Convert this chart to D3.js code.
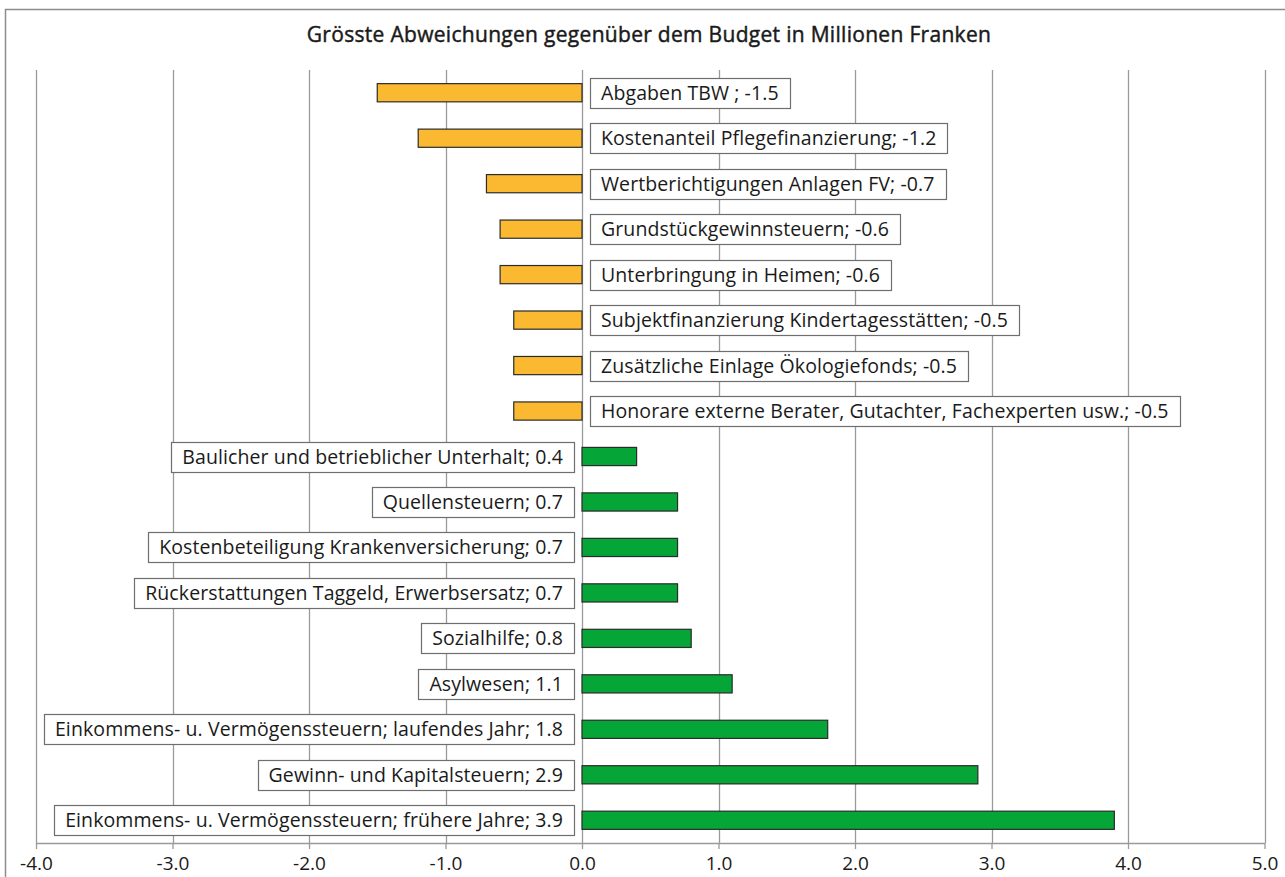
<!DOCTYPE html>
<html>
<head>
<meta charset="utf-8">
<script src="https://cdn.jsdelivr.net/npm/d3@7"></script>
<style>
  body { margin: 0; background: #fff; }
  svg { display: block; font-family: "Open Sans", sans-serif; }
</style>
</head>
<body>
<svg id="chart" width="1285" height="877"></svg>
<script>
// data
var categories = [
  "Abgaben TBW ",
  "Kostenanteil Pflegefinanzierung",
  "Wertberichtigungen Anlagen FV",
  "Grundstückgewinnsteuern",
  "Unterbringung in Heimen",
  "Subjektfinanzierung Kindertagesstätten",
  "Zusätzliche Einlage Ökologiefonds",
  "Honorare externe Berater, Gutachter, Fachexperten usw.",
  "Baulicher und betrieblicher Unterhalt",
  "Quellensteuern",
  "Kostenbeteiligung Krankenversicherung",
  "Rückerstattungen Taggeld, Erwerbsersatz",
  "Sozialhilfe",
  "Asylwesen",
  "Einkommens- u. Vermögenssteuern; laufendes Jahr",
  "Gewinn- und Kapitalsteuern",
  "Einkommens- u. Vermögenssteuern; frühere Jahre"
]
var values = [-1.5, -1.2, -0.7, -0.6, -0.6, -0.5, -0.5, -0.5, 0.4, 0.7, 0.7, 0.7, 0.8, 1.1, 1.8, 2.9, 3.9]
var tickValues = [-4, -3, -2, -1, 0, 1, 2, 3, 4, 5]
var title = "Grösste Abweichungen gegenüber dem Budget in Millionen Franken"

var rows = categories.map((c, i) => ({ name: c, value: values[i] }))
var fmt = v => v.toFixed(1)  // plain hyphen minus, like the original

var svg = d3.select("#chart")

// outer frame
svg.append("rect")
  .attr("x", 5.5).attr("y", 9.5)
  .attr("width", 1300).attr("height", 900)
  .attr("fill", "none")
  .attr("stroke", "#8c8c8c")
  .attr("stroke-width", 1.5)

// title, slightly thickened regular weight
svg.append("text")
  .attr("x", 649).attr("y", 42)
  .attr("text-anchor", "middle")
  .style("font-size", "21px")
  .style("letter-spacing", "0.3px")
  .attr("fill", "#1a1a1a")
  .attr("stroke", "#1a1a1a")
  .attr("stroke-width", 0.45)
  .text(title)

var x = d3.scaleLinear().domain([-4, 5]).range([36, 1264.5])
var y = d3.scaleBand()
  .domain(categories)
  .range([70, 843])
  .paddingInner(0.6)
  .paddingOuter(0.3)

// gridlines
svg.append("g")
  .selectAll("line")
  .data(tickValues)
  .enter().append("line")
  .attr("x1", d => Math.round(x(d)) + 0.5)
  .attr("x2", d => Math.round(x(d)) + 0.5)
  .attr("y1", 70).attr("y2", 843)
  .attr("stroke", "#9a9a9a")
  .attr("stroke-width", 1.3)

// axis
var axis = svg.append("g")
  .attr("transform", "translate(0,843)")
  .call(d3.axisBottom(x).tickValues(tickValues).tickFormat(fmt).tickSize(6).tickSizeOuter(0))
axis.select(".domain").attr("stroke", "#9a9a9a").attr("stroke-width", 1.3)
axis.selectAll(".tick line").attr("stroke", "#9a9a9a").attr("stroke-width", 1.3)
axis.selectAll(".tick text")
  .attr("y", 14)
  .style("font-size", "19px")
  .style("font-family", "'Open Sans', sans-serif")
  .attr("fill", "#1a1a1a")

// bars
svg.append("g")
  .selectAll("rect")
  .data(rows)
  .enter().append("rect")
  .attr("x", d => x(Math.min(0, d.value)))
  .attr("width", d => Math.abs(x(d.value) - x(0)))
  .attr("y", d => y(d.name))
  .attr("height", y.bandwidth())
  .attr("fill", d => d.value < 0 ? "#fbb931" : "#06a537")
  .attr("stroke", "#2b2b2b")
  .attr("stroke-width", 1.2)

// labels with boxes
var labels = svg.append("g")
  .selectAll("g")
  .data(rows)
  .enter().append("g")

labels.each(function (d) {
  var g = d3.select(this)
  var cy = y(d.name) + y.bandwidth() / 2
  var rect = g.append("rect")
  var txt = g.append("text")
    .attr("y", cy)
    .attr("dy", "0.36em")
    .style("font-size", "19.5px")
    .style("letter-spacing", "0.1px")
    .attr("fill", "#1a1a1a")
    .text(d.name + "; " + fmt(d.value))
  var w = txt.node().getComputedTextLength()
  var padX = 11
  var bx = d.value < 0 ? x(0) + 8 : x(0) - 8 - w - 2 * padX
  txt.attr("x", bx + padX)
  rect.attr("x", Math.round(bx) + 0.5)
    .attr("y", Math.round(cy - 15) + 0.5)
    .attr("width", Math.round(w + 2 * padX))
    .attr("height", 30)
    .attr("fill", "#fff")
    .attr("stroke", "#6e6e6e")
    .attr("stroke-width", 1.2)
})
</script>
</body>
</html>
